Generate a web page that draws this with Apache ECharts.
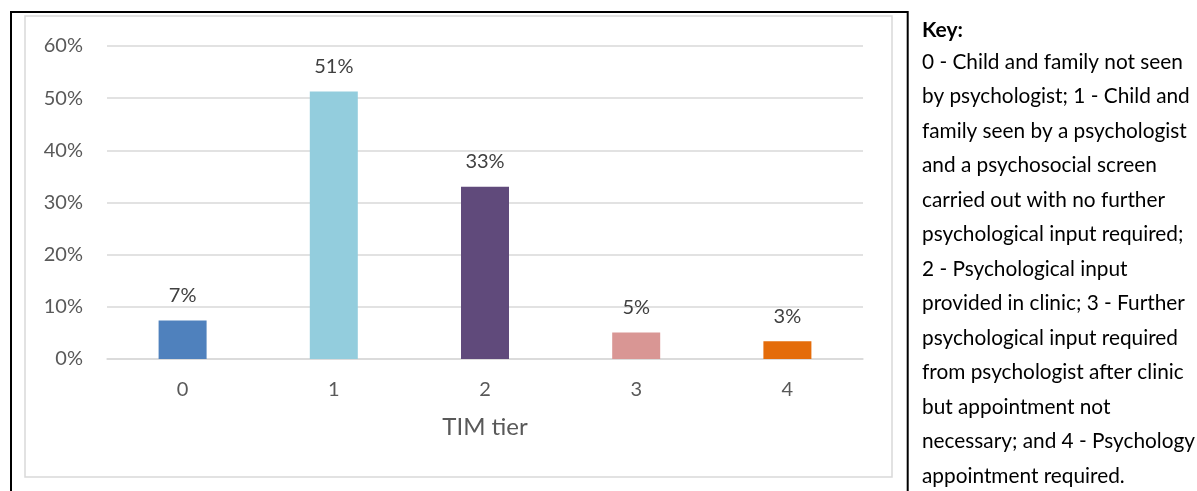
<!DOCTYPE html>
<html>
<head>
<meta charset="utf-8">
<script src="https://cdn.jsdelivr.net/npm/echarts@6/dist/echarts.min.js"></script>
<style>
  html, body { margin: 0; padding: 0; background: #ffffff; }
  #chart { width: 1197px; height: 491px; }
</style>
</head>
<body>
<div id="chart"></div>
<script>
// TIM tier distribution (share of children/families per tier)
const categories = ['0', '1', '2', '3', '4'];
const shares = [0.074, 0.513, 0.330, 0.051, 0.034];
const barColors = ['#4F81BD', '#93CDDD', '#604A7B', '#D99694', '#E46C0A'];
const axisTitle = 'TIM tier';

// Explanatory key shown beside the chart
const keyTitle = 'Key:';
const keyLines = [
  '0 - Child and family not seen',
  'by psychologist; 1 - Child and',
  'family seen by a psychologist',
  'and a psychosocial screen',
  'carried out with no further',
  'psychological input required;',
  '2 - Psychological input',
  'provided in clinic; 3 - Further',
  'psychological input required',
  'from psychologist after clinic',
  'but appointment not',
  'necessary; and 4 - Psychology',
  'appointment required.'
];

const FONT = 'Lato, "Open Sans", sans-serif';
const chart = echarts.init(document.getElementById('chart'), null, { renderer: 'canvas' });

const keyTop = 20;
const keyPitch = 34.5;
const keyGraphics = [
  {
    type: 'text', x: 922, y: keyTop,
    style: { text: keyTitle, font: 'bold 21px ' + FONT, fill: '#000000' }
  }
].concat(keyLines.map((t, i) => ({
  type: 'text',
  x: 922,
  y: keyTop + keyPitch * (i + 1) - 3,
  style: { text: t, font: '20.8px ' + FONT, fill: '#000000' }
})));

const option = {
  backgroundColor: '#ffffff',
  animation: false,
  grid: { left: 107, right: 334, top: 46, bottom: 132, containLabel: false },
  xAxis: {
    type: 'category',
    data: categories,
    name: axisTitle,
    nameLocation: 'middle',
    nameGap: 56,
    nameTextStyle: { fontFamily: FONT, fontSize: 24, color: '#595959' },
    axisLine: { show: true, lineStyle: { color: '#D9D9D9', width: 1.5 } },
    axisTick: { show: false },
    axisLabel: { fontFamily: FONT, fontSize: 20, color: '#595959', margin: 21 }
  },
  yAxis: {
    type: 'value',
    min: 0,
    max: 0.6,
    interval: 0.1,
    axisLine: { show: false },
    axisTick: { show: false },
    axisLabel: {
      fontFamily: FONT, fontSize: 20, color: '#595959', margin: 24,
      formatter: v => Math.round(v * 100) + '%'
    },
    splitLine: { lineStyle: { color: '#D9D9D9', width: 1.5 } }
  },
  series: [{
    type: 'bar',
    barWidth: 48,
    data: shares.map((v, i) => ({ value: v, itemStyle: { color: barColors[i] } })),
    label: {
      show: true,
      position: 'top',
      distance: 15,
      fontFamily: FONT,
      fontSize: 20,
      color: '#404040',
      formatter: p => Math.round(p.value * 100) + '%'
    }
  }],
  graphic: [
    {
      type: 'rect',
      shape: { x: 25, y: 16, width: 867, height: 461 },
      style: { fill: 'none', stroke: '#D9D9D9', lineWidth: 1.5 },
      silent: true
    },
    {
      type: 'polyline',
      shape: { points: [[11, 500], [11, 12], [907.7, 12], [907.7, 500]] },
      style: { fill: 'none', stroke: '#000000', lineWidth: 2 },
      silent: true
    }
  ].concat(keyGraphics)
};

chart.setOption(option);
</script>
</body>
</html>
